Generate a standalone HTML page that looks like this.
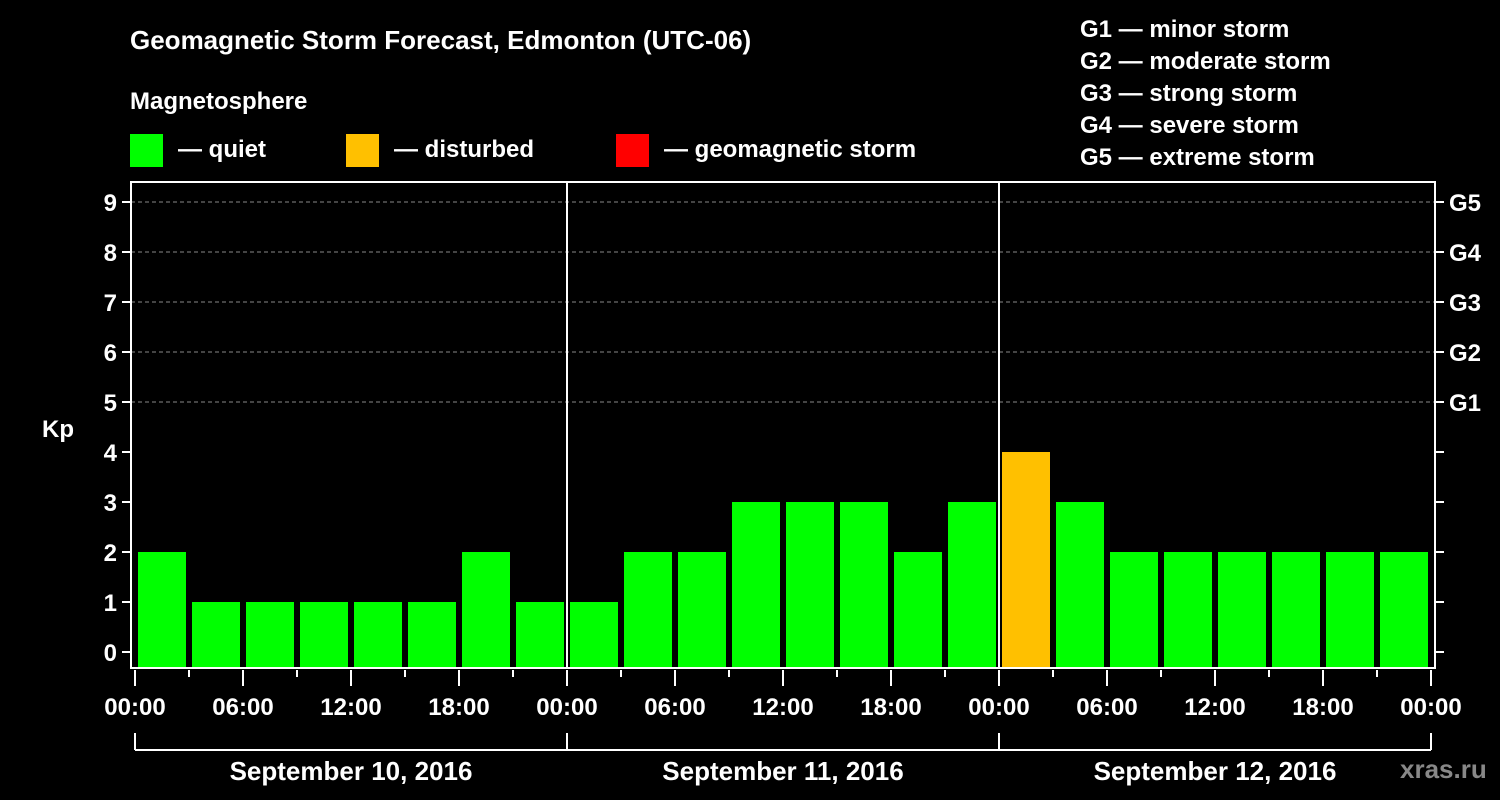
<!DOCTYPE html>
<html><head><meta charset="utf-8"><style>
html,body{margin:0;padding:0;background:#000;}
svg{display:block;font-family:"Liberation Sans",Arial,sans-serif;font-weight:bold;}
</style></head><body>
<svg id="c" width="1500" height="800" viewBox="0 0 1500 800">
<rect width="1500" height="800" fill="#000"/>
<text x="130" y="49" fill="#fff" font-size="26">Geomagnetic Storm Forecast, Edmonton (UTC-06)</text>
<text x="130" y="109" fill="#fff" font-size="24">Magnetosphere</text>
<g><rect x="130" y="134" width="33" height="33" fill="#00ff00"/><text x="178" y="157" fill="#fff" font-size="24">— quiet</text></g>
<g><rect x="346" y="134" width="33" height="33" fill="#ffc000"/><text x="394" y="157" fill="#fff" font-size="24">— disturbed</text></g>
<g><rect x="616" y="134" width="33" height="33" fill="#ff0000"/><text x="664" y="157" fill="#fff" font-size="24">— geomagnetic storm</text></g>
<g fill="#fff" font-size="24">
<text x="1080" y="37">G1 — minor storm</text>
<text x="1080" y="69">G2 — moderate storm</text>
<text x="1080" y="101">G3 — strong storm</text>
<text x="1080" y="133">G4 — severe storm</text>
<text x="1080" y="165">G5 — extreme storm</text>
</g>
<text x="1400" y="778" fill="#888" font-size="26">xras.ru</text>
<g id="plot"></g>
</svg>
<script>
const kpValues=[2,1,1,1,1,1,2,1, 1,2,2,3,3,3,2,3, 4,3,2,2,2,2,2,2];
const yTicks=[0,1,2,3,4,5,6,7,8,9];
const gLabels=["G1","G2","G3","G4","G5"];
const hourLabels=["00:00","06:00","12:00","18:00"];
const dayLabels=["September 10, 2016","September 11, 2016","September 12, 2016"];
const NS="http://www.w3.org/2000/svg";
const g=document.getElementById('plot');
const X0=135,DAY=432,L=131,R=1435,T=182,B=668;
const x=h=>X0+h*DAY/24;
const y=v=>652-50*v;
function mk(t,a,p){const e=document.createElementNS(NS,t);for(const k in a)e.setAttribute(k,a[k]);(p||g).appendChild(e);return e;}
// grid
for(let v=5;v<=9;v++){const e=mk('line',{x1:L,x2:R,y1:y(v),y2:y(v),stroke:'#888','stroke-dasharray':'4,3','stroke-width':1});

}
// bars
kpValues.forEach((v,i)=>{const col=v>=5?'#ff0000':(v>=4?'#ffc000':'#00ff00');
const e=mk('rect',{x:x(i*3)+3,y:y(v),width:48,height:B-y(v),fill:col});

});
// day separators
[1,2].forEach(d=>{const e=mk('line',{x1:x(d*24),x2:x(d*24),y1:T,y2:B,stroke:'#fff','stroke-width':2});

});
// frame
const fr=mk('rect',{x:L,y:T,width:R-L,height:B-T,fill:'none',stroke:'#fff','stroke-width':2});


// y ticks
yTicks.forEach(v=>{mk('line',{x1:L-9,x2:L,y1:y(v),y2:y(v),stroke:'#fff','stroke-width':2});
mk('line',{x1:R,x2:R+9,y1:y(v),y2:y(v),stroke:'#fff','stroke-width':2});
const t=mk('text',{x:L-14,y:y(v)+9,fill:'#fff','font-size':24,'text-anchor':'end'});t.textContent=v;

});
gLabels.forEach((s,i)=>{const t=mk('text',{x:1449,y:y(5+i)+9,fill:'#fff','font-size':24});t.textContent=s;

});
const kp=mk('text',{x:42,y:437,fill:'#fff','font-size':24});kp.textContent='Kp';


// x ticks
for(let h=0;h<=72;h+=3){const major=h%6===0;
mk('line',{x1:x(h),x2:x(h),y1:B+2,y2:major?686:677,stroke:'#fff','stroke-width':2});
if(major){const t=mk('text',{x:x(h),y:715,fill:'#fff','font-size':24,'text-anchor':'middle'});t.textContent=hourLabels[(h%24)/6];

}}
// day brackets
mk('line',{x1:x(0),x2:x(72),y1:750,y2:750,stroke:'#fff','stroke-width':2});
for(let d=0;d<=3;d++)mk('line',{x1:x(d*24),x2:x(d*24),y1:733,y2:750,stroke:'#fff','stroke-width':2});
dayLabels.forEach((s,d)=>{const t=mk('text',{x:x(d*24+12),y:780,fill:'#fff','font-size':26,'text-anchor':'middle'});t.textContent=s;

});
</script>
</body></html>
